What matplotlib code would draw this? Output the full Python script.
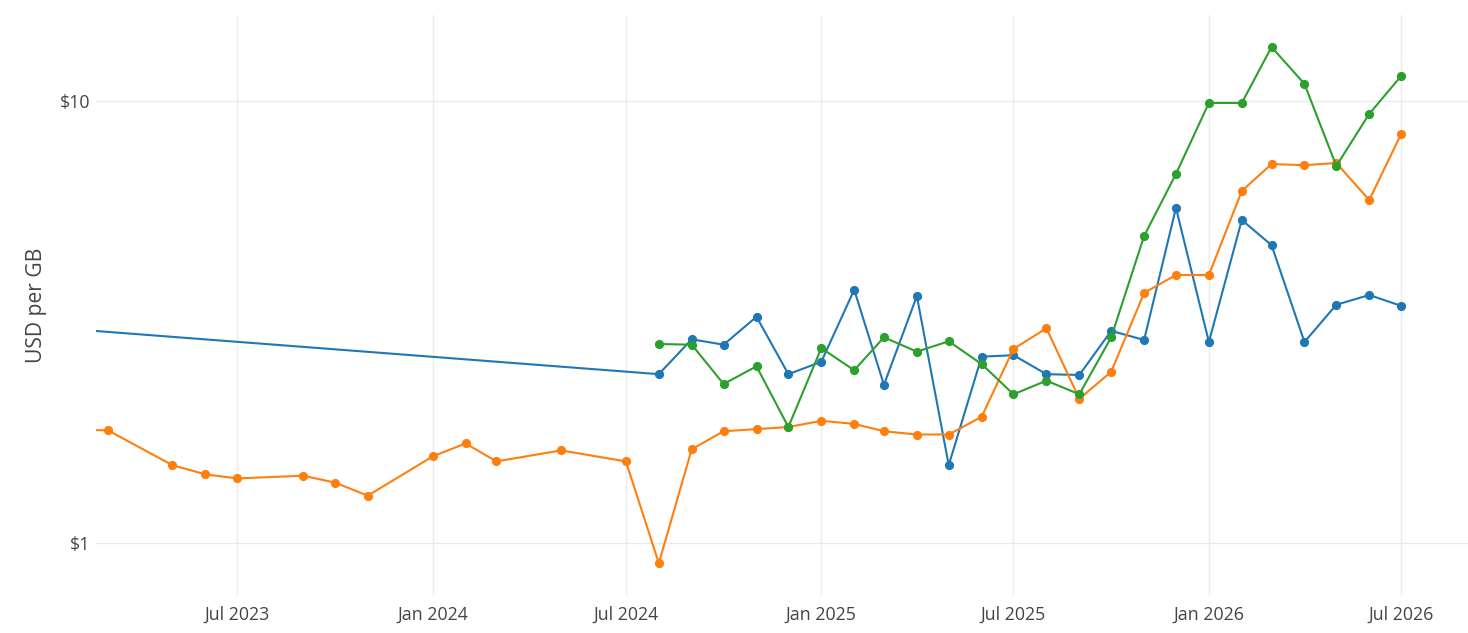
import matplotlib
matplotlib.use("Agg")
from matplotlib import pyplot as plt
import matplotlib.dates as mdates
import matplotlib.ticker as mticker
import pandas as pd

# ============ data =============================================
blue_dates = ["2023-01-01", "2024-08-01", "2024-09-01", "2024-10-01", "2024-11-01", "2024-12-01",
              "2025-01-01", "2025-02-01", "2025-03-01", "2025-04-01", "2025-05-01", "2025-06-01",
              "2025-07-01", "2025-08-01", "2025-09-01", "2025-10-01", "2025-11-01", "2025-12-01",
              "2026-01-01", "2026-02-01", "2026-03-01", "2026-04-01", "2026-05-01", "2026-06-01",
              "2026-07-01"]
blue_values = [3.08, 2.41, 2.89, 2.81, 3.25, 2.41,
               2.57, 3.74, 2.28, 3.62, 1.50, 2.64,
               2.66, 2.41, 2.40, 3.02, 2.88, 5.73,
               2.85, 5.38, 4.72, 2.85, 3.46, 3.64,
               3.44]

orange_dates = ["2023-02-01", "2023-03-01", "2023-05-01", "2023-06-01", "2023-07-01", "2023-09-01",
                "2023-10-01", "2023-11-01", "2024-01-01", "2024-02-01", "2024-03-01", "2024-05-01",
                "2024-07-01", "2024-08-01", "2024-09-01", "2024-10-01", "2024-11-01", "2024-12-01",
                "2025-01-01", "2025-02-01", "2025-03-01", "2025-04-01", "2025-05-01", "2025-06-01",
                "2025-07-01", "2025-08-01", "2025-09-01", "2025-10-01", "2025-11-01", "2025-12-01",
                "2026-01-01", "2026-02-01", "2026-03-01", "2026-04-01", "2026-05-01", "2026-06-01",
                "2026-07-01"]
orange_values = [1.80, 1.80, 1.50, 1.43, 1.40, 1.42,
                 1.37, 1.28, 1.57, 1.68, 1.53, 1.62,
                 1.53, 0.90, 1.63, 1.79, 1.81, 1.83,
                 1.89, 1.86, 1.79, 1.76, 1.76, 1.93,
                 2.75, 3.06, 2.12, 2.44, 3.68, 4.04,
                 4.04, 6.26, 7.20, 7.16, 7.24, 5.97,
                 8.42]

green_dates = ["2024-08-01", "2024-09-01", "2024-10-01", "2024-11-01", "2024-12-01",
               "2025-01-01", "2025-02-01", "2025-03-01", "2025-04-01", "2025-05-01", "2025-06-01",
               "2025-07-01", "2025-08-01", "2025-09-01", "2025-10-01", "2025-11-01", "2025-12-01",
               "2026-01-01", "2026-02-01", "2026-03-01", "2026-04-01", "2026-05-01", "2026-06-01",
               "2026-07-01"]
green_values = [2.82, 2.81, 2.29, 2.51, 1.83,
                2.76, 2.46, 2.92, 2.71, 2.86, 2.54,
                2.17, 2.33, 2.17, 2.92, 4.95, 6.84,
                9.90, 9.90, 13.25, 10.93, 7.13, 9.35,
                11.39]

x_ticks = ["2023-07-01", "2024-01-01", "2024-07-01", "2025-01-01", "2025-07-01", "2026-01-01", "2026-07-01"]
y_ticks = [1, 10]
# ============ end data ====================

plt.rcParams['font.family'] = ['Open Sans', 'DejaVu Sans']

fig = plt.figure(figsize=(14.68, 6.33), dpi=100)
ax = fig.add_axes([96 / 1468, 38 / 633, 1 - 96 / 1468, 580 / 633])

series = [
    (blue_dates, blue_values, '#1f77b4'),
    (orange_dates, orange_values, '#ff7f0e'),
    (green_dates, green_values, '#2ca02c'),
]
for dates, values, color in series:
    ax.plot(pd.to_datetime(dates), values, color=color, linewidth=1.5,
            marker='o', markersize=5.6, clip_on=True)

ax.set_yscale('log')
ax.set_ylim(10 ** -0.1176, 10 ** 1.1946)
ax.set_xlim(pd.Timestamp("2023-02-18"), pd.Timestamp("2026-09-02"))

ax.yaxis.set_major_locator(mticker.FixedLocator(y_ticks))
ax.yaxis.set_minor_locator(mticker.NullLocator())
ax.yaxis.set_major_formatter(mticker.FuncFormatter(lambda v, p: '$%g' % v))
ax.set_xticks(pd.to_datetime(x_ticks))
ax.xaxis.set_major_formatter(mdates.DateFormatter('%b %Y'))
ax.xaxis.set_minor_locator(mticker.NullLocator())

ax.grid(True, color='#ebebeb', linewidth=1)
ax.set_axisbelow(True)
for s in ax.spines.values():
    s.set_visible(False)
ax.tick_params(length=0, labelsize=12.8, colors='#444444', pad=4)
ax.tick_params(axis='x', pad=8)
ax.set_ylabel('USD per GB', fontsize=15.2, color='#444444', labelpad=9)

fig.savefig('out.png', dpi=100)
